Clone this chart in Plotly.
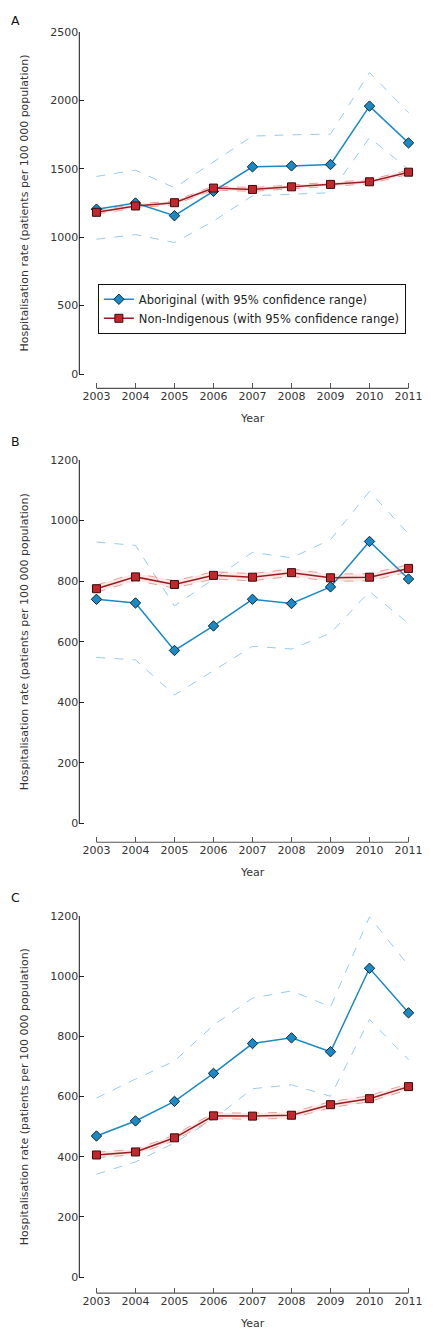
import plotly.graph_objects as go

years = [2003, 2004, 2005, 2006, 2007, 2008, 2009, 2010, 2011]

# Panel A
a_abor = [1205, 1250, 1157, 1335, 1514, 1521, 1531, 1958, 1689]
a_abor_hi = [1444, 1490, 1361, 1553, 1739, 1748, 1754, 2203, 1910]
a_abor_lo = [985, 1019, 961, 1118, 1303, 1312, 1325, 1728, 1495]
a_non = [1182, 1228, 1252, 1359, 1349, 1368, 1386, 1405, 1475]
a_non_hi = [1196, 1242, 1266, 1374, 1363, 1382, 1400, 1420, 1491]
a_non_lo = [1168, 1214, 1238, 1344, 1335, 1354, 1372, 1390, 1459]

# Panel B
b_abor = [740, 728, 571, 652, 740, 726, 781, 931, 807]
b_abor_hi = [929, 918, 718, 806, 895, 877, 937, 1096, 956]
b_abor_lo = [548, 540, 424, 505, 585, 576, 628, 766, 660]
b_non = [775, 814, 789, 819, 813, 828, 811, 813, 842]
b_non_hi = [787, 826, 801, 831, 825, 840, 823, 825, 854]
b_non_lo = [763, 802, 777, 807, 801, 816, 799, 801, 830]

# Panel C
c_abor = [469, 519, 584, 677, 776, 795, 749, 1026, 878]
c_abor_hi = [595, 658, 718, 837, 927, 951, 898, 1197, 1035]
c_abor_lo = [342, 383, 446, 525, 626, 639, 601, 856, 722]
c_non = [406, 416, 463, 536, 535, 538, 573, 593, 633]
c_non_hi = [415, 425, 472, 546, 545, 548, 583, 603, 643]
c_non_lo = [397, 407, 454, 526, 525, 528, 563, 583, 623]

panels = [
    ("A", a_abor, a_abor_hi, a_abor_lo, a_non, a_non_hi, a_non_lo),
    ("B", b_abor, b_abor_hi, b_abor_lo, b_non, b_non_hi, b_non_lo),
    ("C", c_abor, c_abor_hi, c_abor_lo, c_non, c_non_hi, c_non_lo),
]
y_tops = [2500, 1200, 1200]
y_dticks = [500, 200, 200]
y_bottoms = [-104, -62, -53]
# pixel rows of each plot area in the 440x1332 window: (top, bottom)
px_rows = [(26, 384), (456, 840), (914, 1293)]

OFF = 8  # the page body keeps its default 8px margin
W, H = 440 - OFF, 1332 - OFF
BLUE = "#1b8ac4"
BLUE_CI = "#98cbe9"
RED = "#9b1b1f"
RED_FILL = "#c1272d"
RED_CI = "#e58a82"
FONT = "DejaVu Sans"


def px_x(p):
    return (p - OFF) / W


def px_y(p):
    return 1 - (p - OFF) / H


fig = go.Figure()
shapes, annotations = [], []
x_dom = [px_x(81), px_x(422)]

for k, (label, ab, ab_hi, ab_lo, nn, nn_hi, nn_lo) in enumerate(panels):
    sfx = "" if k == 0 else str(k + 1)
    xa, ya = "x" + sfx, "y" + sfx
    top_px, bot_px = px_rows[k]

    for ci in (ab_hi, ab_lo):
        fig.add_trace(go.Scatter(x=years, y=ci, mode="lines", xaxis=xa, yaxis=ya,
                                 line=dict(color=BLUE_CI, width=1, dash="dash"),
                                 showlegend=False, hoverinfo="skip"))
    fig.add_trace(go.Scatter(x=years, y=nn_lo, mode="lines", xaxis=xa, yaxis=ya,
                             line=dict(color=RED_CI, width=0.8, dash="dash"),
                             showlegend=False, hoverinfo="skip"))
    fig.add_trace(go.Scatter(x=years, y=nn_hi, mode="lines", xaxis=xa, yaxis=ya,
                             line=dict(color=RED_CI, width=0.8, dash="dash"),
                             fill="tonexty", fillcolor="rgba(235,150,140,0.22)",
                             showlegend=False, hoverinfo="skip"))
    fig.add_trace(go.Scatter(x=years, y=ab, mode="lines+markers", xaxis=xa, yaxis=ya,
                             name="Aboriginal (with 95% confidence range)",
                             legendgroup="abor", legendrank=1,
                             line=dict(color=BLUE, width=1.5),
                             marker=dict(symbol="diamond", size=8, color=BLUE,
                                         line=dict(color="#0b2536", width=1)),
                             cliponaxis=False, showlegend=(k == 0)))
    fig.add_trace(go.Scatter(x=years, y=nn, mode="lines+markers", xaxis=xa, yaxis=ya,
                             name="Non-Indigenous (with 95% confidence range)",
                             legendgroup="non", legendrank=2,
                             line=dict(color=RED, width=1.5),
                             marker=dict(symbol="square", size=8, color=RED_FILL,
                                         line=dict(color="#3d0a0b", width=1)),
                             cliponaxis=False, showlegend=(k == 0)))

    fig.update_layout(**{
        "xaxis" + sfx: dict(domain=x_dom, anchor=ya, range=[2002.56, 2011.1],
                            tickvals=years, ticks="inside", ticklen=5, tickcolor="#555",
                            showline=False, showgrid=False, zeroline=False,
                            tickfont=dict(size=11, color="#333")),
        "yaxis" + sfx: dict(domain=[px_y(bot_px), px_y(top_px)], anchor=xa,
                            range=[y_bottoms[k], y_tops[k]],
                            tick0=0, dtick=y_dticks[k], ticks="inside", ticklen=5,
                            tickcolor="#222", showline=False, showgrid=False,
                            zeroline=False, tickfont=dict(size=11, color="#333")),
    })
    # axis lines: y from 0 to the top value, x from first to last year
    shapes.append(dict(type="line", xref=xa + " domain", yref=ya, x0=0, x1=0,
                       y0=0, y1=y_tops[k], line=dict(color="#111", width=1)))
    shapes.append(dict(type="line", xref=xa, yref=ya + " domain", x0=2003, x1=2011,
                       y0=0, y1=0, line=dict(color="#555", width=1.2)))

    zero_px = bot_px - (bot_px - top_px) * (0 - y_bottoms[k]) / (y_tops[k] - y_bottoms[k])
    label_px = max(top_px - 18.5, OFF + 7)  # keep the top label inside the figure
    annotations.append(dict(text=label, x=px_x(OFF + 1), y=px_y(label_px), xref="paper",
                            yref="paper", xanchor="left", yanchor="middle", showarrow=False,
                            font=dict(size=12.5, color="#111", family=FONT)))
    annotations.append(dict(text="Hospitalisation rate (patients per 100 000 population)",
                            x=px_x(25), y=px_y((top_px + zero_px) / 2), xref="paper",
                            yref="paper", textangle=-90, showarrow=False,
                            xanchor="center", yanchor="middle",
                            font=dict(size=11, color="#333", family=FONT)))
    annotations.append(dict(text="Year", x=px_x(258), y=px_y(bot_px + 30), xref="paper",
                            yref="paper", showarrow=False, xanchor="center", yanchor="middle",
                            font=dict(size=11, color="#333", family=FONT)))

fig.update_layout(
    width=W, height=H,
    margin=dict(l=0, r=0, t=0, b=0),
    paper_bgcolor="white", plot_bgcolor="white",
    font=dict(family=FONT, color="#333"),
    shapes=shapes, annotations=annotations,
    legend=dict(x=px_x(100), y=px_y(279), xanchor="left", yanchor="top",
                bordercolor="#111", borderwidth=1, bgcolor="white",
                traceorder="normal", tracegroupgap=5,
                font=dict(size=11.5, color="#222"), itemwidth=30),
)

fig.write_html("out.html")
